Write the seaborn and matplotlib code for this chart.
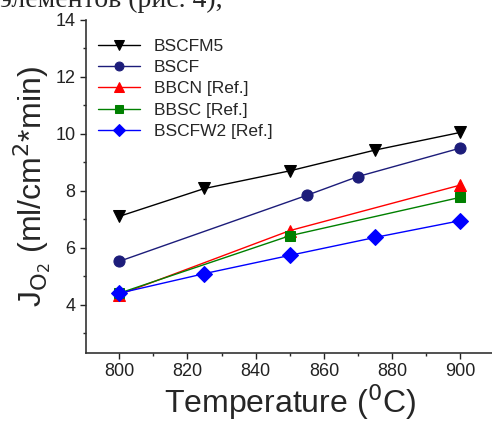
import matplotlib
matplotlib.use("Agg")
import matplotlib.pyplot as plt
import seaborn as sns
import pandas as pd
from matplotlib.ticker import MultipleLocator

# === Données ===
t_bscfm5 = [800, 825, 850, 875, 900]
j_bscfm5 = [7.1, 8.08, 8.7, 9.43, 10.05]

t_bscf = [800, 855, 870, 900]
j_bscf = [5.52, 7.84, 8.5, 9.5]

t_bbcn = [800, 850, 900]
j_bbcn = [4.35, 6.6, 8.2]

t_bbsc = [800, 850, 900]
j_bbsc = [4.4, 6.42, 7.77]

t_bscfw2 = [800, 825, 850, 875, 900]
j_bscfw2 = [4.4, 5.09, 5.73, 6.36, 6.95]

names = ["BSCFM5", "BSCF", "BBCN [Ref.]", "BBSC [Ref.]", "BSCFW2 [Ref.]"]
colors = ["#000000", "#1c1c7a", "#ff0000", "#008000", "#0000ff"]
markers = ["v", "o", "^", "s", "D"]

series = [(t_bscfm5, j_bscfm5), (t_bscf, j_bscf), (t_bbcn, j_bbcn),
          (t_bbsc, j_bbsc), (t_bscfw2, j_bscfw2)]

rows = []
for name, (t, j) in zip(names, series):
    for a, b in zip(t, j):
        rows.append({"T": a, "J": b, "serie": name})
df = pd.DataFrame(rows)

# === Figure ===
sns.set_style("ticks")
plt.rcParams["font.family"] = ["Liberation Sans", "DejaVu Sans"]

fig = plt.figure(figsize=(4.92, 4.21), dpi=100)
ax = fig.add_axes([0.175, 0.1615, 0.83, 0.791])

msizes = [9, 8, 9, 7, 8]
for name, c, m, ms in zip(names, colors, markers, msizes):
    sub = df[df["serie"] == name]
    sns.lineplot(data=sub, x="T", y="J", ax=ax, color=c, marker=m,
                 markersize=ms, markeredgecolor=c, linewidth=1.0,
                 label=name, legend=False, sort=False)

ax.set_xlim(790.3, 910)
ax.set_ylim(2.3, 14)
ax.xaxis.set_major_locator(MultipleLocator(20))
ax.xaxis.set_minor_locator(MultipleLocator(10))
ax.yaxis.set_major_locator(MultipleLocator(2))
ax.yaxis.set_minor_locator(MultipleLocator(1))
ax.tick_params(axis="both", which="major", direction="out", length=4,
               width=1, labelsize=13, colors="#222222")
ax.tick_params(axis="both", which="minor", direction="out", length=2.5, width=1)
sns.despine(ax=ax)
for s in ["left", "bottom"]:
    ax.spines[s].set_color("#333333")
    ax.spines[s].set_linewidth(1.2)

ax.set_xlabel("Temperature ($^{0}$C)", fontsize=23, labelpad=1)
ax.set_ylabel("J$_{\\mathrm{O_2}}$ (ml/cm$^{2}$*min)", fontsize=23, labelpad=2)

leg = ax.legend(loc="upper left", bbox_to_anchor=(0.0, 0.98), frameon=False,
                fontsize=12.5, handlelength=2.4, labelspacing=0.35,
                borderaxespad=0.3, markerscale=0.8)

# texte du document coupé en haut
fig.text(0.0, 0.984, "элементов (рис. 4),", fontsize=20,
         family=["Liberation Serif", "DejaVu Serif"], va="baseline", ha="left")

fig.savefig("out.png", dpi=100)
